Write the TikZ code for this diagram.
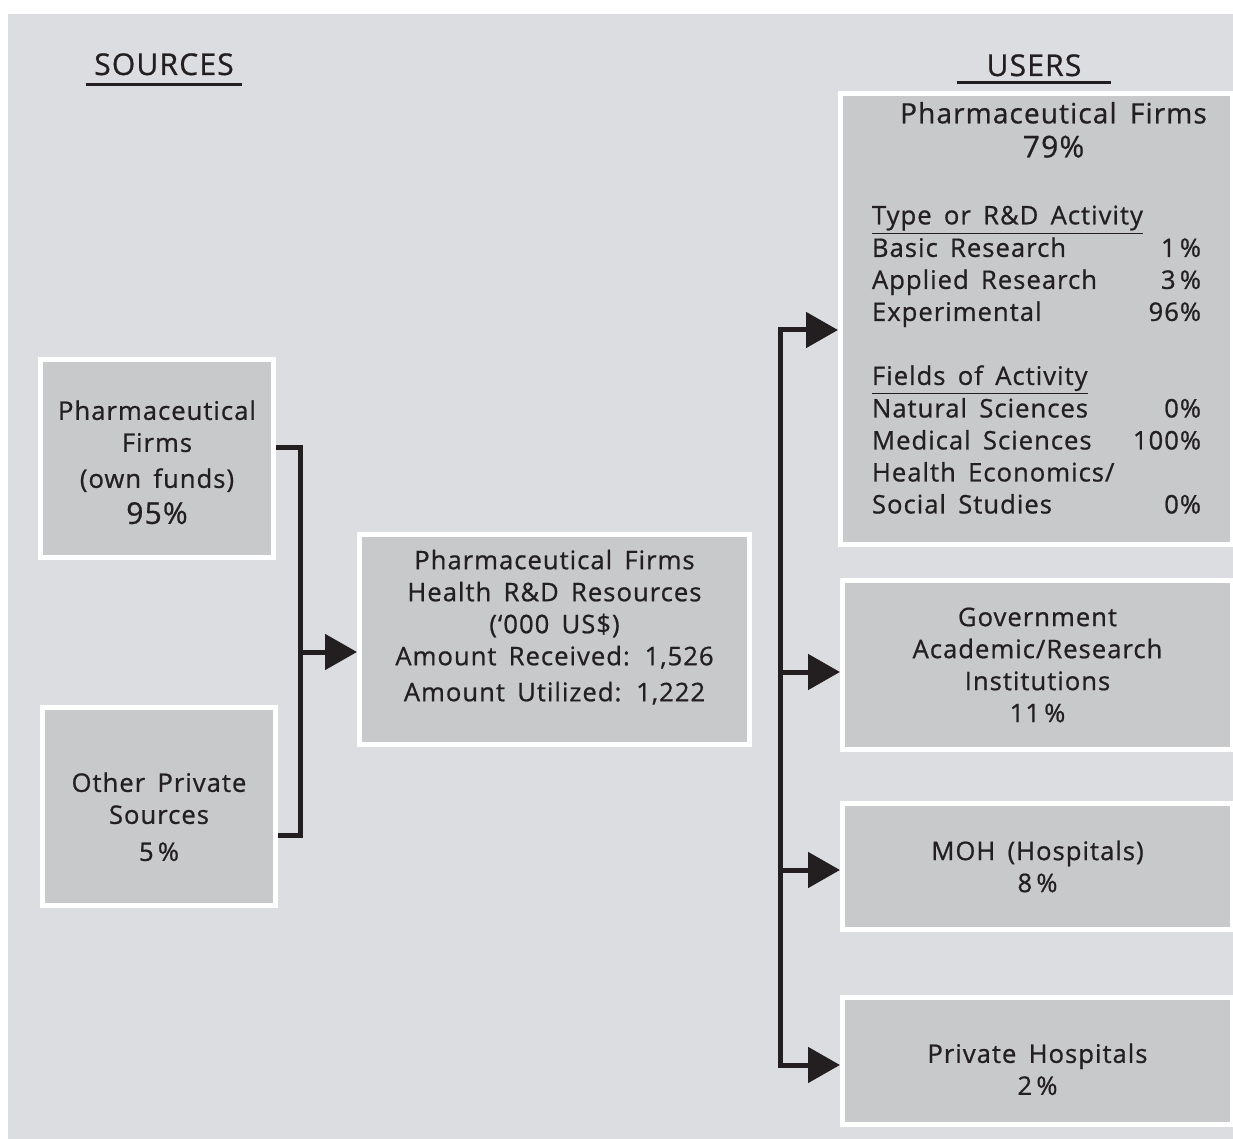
\documentclass[tikz,border=0pt]{standalone}
\usepackage{fontspec}
\setmainfont{Open Sans}[LetterSpace=4,WordSpace=1.6,FakeBold=0.8]
\usetikzlibrary{arrows.meta}

\definecolor{bggray}{RGB}{220,221,224}
\definecolor{boxgray}{RGB}{200,201,203}
\definecolor{ink}{RGB}{35,31,32}

\tikzset{
  box/.style={draw=white, line width=2.5pt, fill=boxgray, align=center,
    inner sep=0pt, text=ink, font=\fontsize{12.8}{16}\selectfont},
  heading/.style={text=ink, inner sep=0pt, anchor=base, font=\fontsize{15}{18}\selectfont},
  rule/.style={draw=ink, line width=1.5pt},
  conn/.style={draw=ink, line width=2.5pt},
  tip/.tip={Triangle[length=16pt,width=17.5pt]},
  arr/.style={conn, -tip},
  arrs/.style={conn, tip-tip}
}

\begin{document}
\begin{tikzpicture}[x=0.5pt,y=-0.5pt]
\useasboundingbox (0,0) rectangle (1233,1139);
% Background
\fill[white] (0,0) rectangle (1233,1139);
\fill[bggray] (8,14) rectangle (1233,1139);

% Headings
\node[heading, minimum width=78pt] (hdSrc) at (164,75) {SOURCES};
\draw[rule] ([yshift=-5pt]hdSrc.base west) -- ([yshift=-5pt]hdSrc.base east);
\node[heading, minimum width=77pt] (hdUsr) at (1034,76) {USERS};
\draw[rule] ([yshift=-3.5pt]hdUsr.base west) -- ([yshift=-3.5pt]hdUsr.base east);

% Sources
\node[box, minimum width=116.5pt, minimum height=99pt] (srcPharma) at (157,458.5)
  {\rule{0pt}{13.5pt}Pharmaceutical\\Firms\\[2pt](own funds)\\[2pt]{\fontsize{15}{16}\selectfont 95\%}};
\node[box, minimum width=116.5pt, minimum height=99pt] (srcOther) at (159,806.5)
  {\rule{0pt}{20pt}Other Private\\Sources\\[2.5pt]5\,\%};

% Resources
\node[box, minimum width=195pt, minimum height=105pt] (resources) at (554.5,639.5)
  {Pharmaceutical Firms\\Health R\&D Resources\\(‘000 US\$)\\Amount Received: 1,526\\[2pt]%
   \rule[-14pt]{0pt}{0pt}Amount Utilized: 1,222};

% Users
\node[box, minimum width=196pt, minimum height=225.5pt] (usrPharma) at (1036.5,319)
  {\begin{tabular*}{164.5pt}{@{}l@{\extracolsep{\fill}}r@{}}
   \multicolumn{2}{@{}c@{}}{\makebox[0pt]{\hspace{17pt}\fontsize{14}{16}\selectfont Pharmaceutical\ Firms}}\\[1pt]
   \multicolumn{2}{@{}c@{}}{\makebox[0pt]{\hspace{17pt}\fontsize{15}{16}\selectfont 79\%}}\\[17.5pt]
   \multicolumn{2}{@{}l@{}}{\underline{Type or R\&D Activity}} \\
   Basic Research & 1\,\% \\
   Applied Research & 3\,\% \\
   Experimental & 96\% \\[16pt]
   \multicolumn{2}{@{}l@{}}{\underline{Fields of Activity}} \\
   Natural Sciences & 0\% \\
   Medical Sciences & 100\% \\
   Health Economics/ & \\
   Social Studies & 0\% \\[7pt]
   \end{tabular*}};
\node[box, minimum width=195pt, minimum height=84.5pt] (usrGov) at (1037.5,665)
  {Government\\Academic/Research\\Institutions\\11\,\%};
\node[box, minimum width=195pt, minimum height=63pt] (usrMOH) at (1037.5,866.5)
  {MOH (Hospitals)\\8\,\%};
\node[box, minimum width=195pt, minimum height=63.5pt] (usrPrivate) at (1037.5,1061)
  {\rule{0pt}{18pt}Private Hospitals\\2\,\%};

% Connectors, sources side
\coordinate (jlTop) at (300,448);
\coordinate (jlMid) at (300,652);
\coordinate (jlBot) at (300,835);
\draw[conn] (srcPharma.east |- jlTop) -- (jlTop) -- (jlBot) -- (srcOther.east |- jlBot);
\draw[arr] (jlMid) -- (resources.west |- jlMid);

% Connectors, users side
\coordinate (jrTop) at (780,330);
\coordinate (jrGov) at (780,672);
\coordinate (jrMOH) at (780,870);
\coordinate (jrBot) at (780,1065);
\draw[arrs] (usrPharma.west |- jrTop) -- (jrTop) -- (jrBot) -- (usrPrivate.west |- jrBot);
\draw[arr] (jrGov) -- (usrGov.west |- jrGov);
\draw[arr] (jrMOH) -- (usrMOH.west |- jrMOH);
\end{tikzpicture}
\end{document}
